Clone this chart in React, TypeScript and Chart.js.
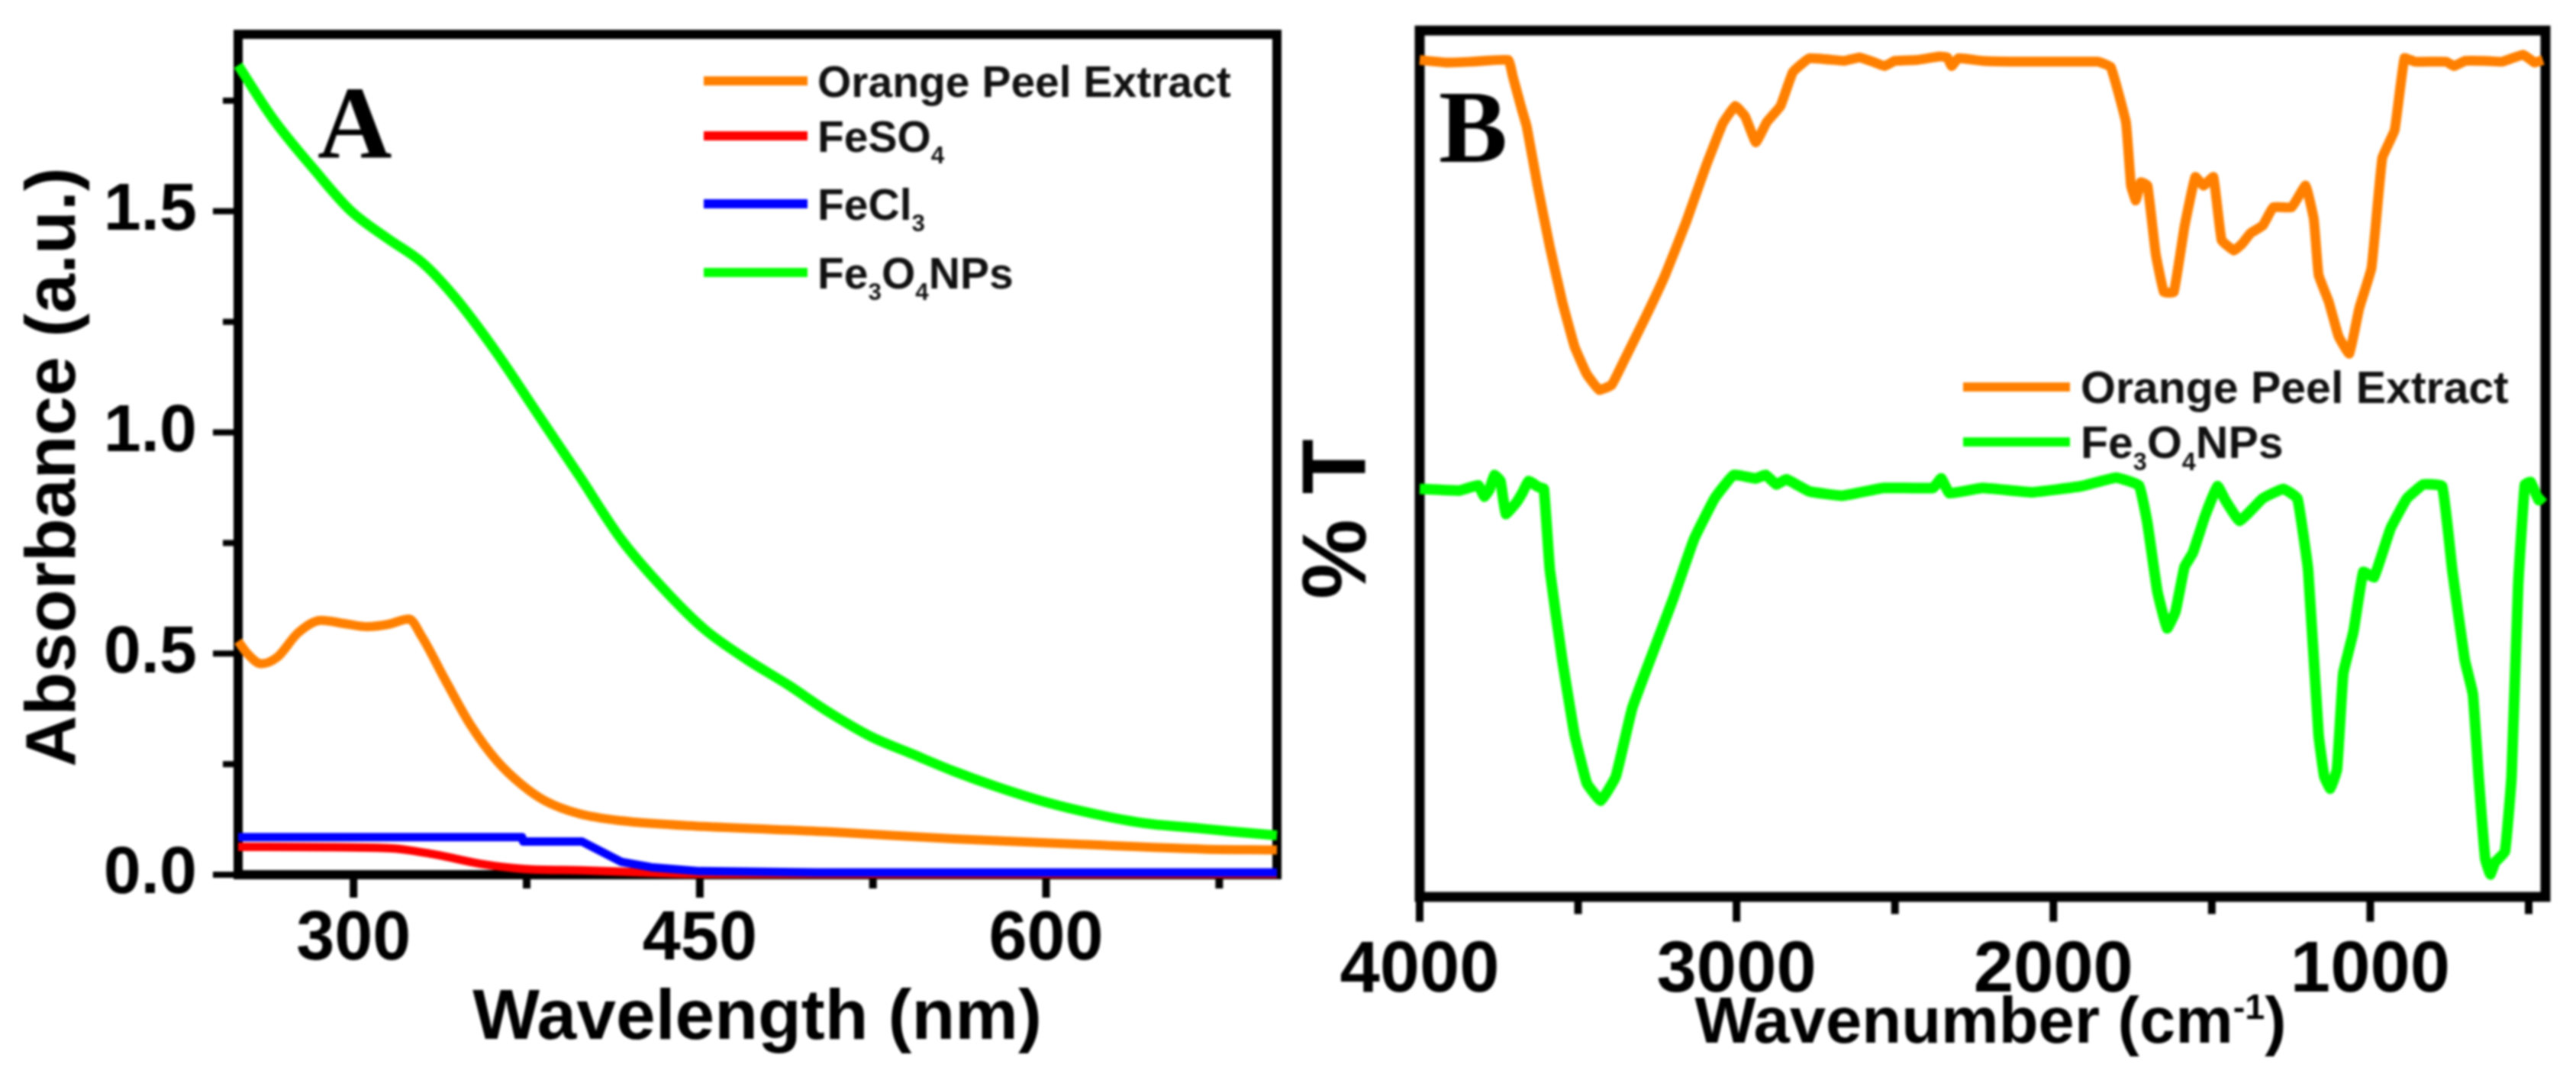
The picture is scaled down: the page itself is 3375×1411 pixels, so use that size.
import React, { useEffect, useRef } from "react";
import { Chart, registerables } from "chart.js";

Chart.register(...registerables);

const FONT = '"Liberation Sans", Arial, sans-serif';
const SERIF = '"Liberation Serif", serif';
const ORANGE = "#ff8000";
const RED = "#ff0000";
const BLUE = "#0000ff";
const GREEN = "#00ff00";

// Panel A
const orangeNm = [250,254,260,267,276,286,297,306,315,324,329.5,340,351,362,373,383,398,416,452,506,560,614,668,700];
const orangeAbs = [0.528,0.5,0.477,0.492,0.547,0.575,0.567,0.561,0.566,0.578,0.539,0.4375,0.336,0.258,0.203,0.167,0.1375,0.122,0.109,0.097,0.081,0.069,0.058,0.056];
const redNm = [250,315,335,357,374,399,432,450,700];
const redAbs = [0.063,0.06,0.046,0.023,0.013,0.01,0.004,0.002,0.002];
const blueNm = [250,300,373,373.5,399,416,429,450,500,700];
const blueAbs = [0.085,0.085,0.085,0.075,0.075,0.029,0.017,0.008,0.005,0.005];
const greenNm = [250,265,283,299,315,330,344,362,380,398,416,434,452,470,488,506,524,542,560,578,600,621,642,664,680,700];
const greenAbs = [1.83,1.71,1.594,1.5,1.4375,1.383,1.305,1.18,1.04,0.9,0.758,0.648,0.555,0.488,0.43,0.367,0.3125,0.273,0.234,0.2,0.164,0.1375,0.117,0.106,0.098,0.089];
const aMajorX = [300,450,600];
const aMinorX = [375,525,675];
const aMajorY = [0,0.5,1,1.5];
const aMinorY = [0.25,0.75,1.25,1.75];

// Panel B
const orangeWn = [4000,3914,3836,3720,3706,3680,3662,3628,3589,3550,3511,3472,3433,3394,3355,3290,3225,3160,3095,3043,3004,2973,2939,2905,2861,2822,2770,2660,2612,2570,2533,2500,2430,2360,2335,2321,2300,2224,2094,1860,1819,1771,1755,1740,1724,1703,1677,1651,1620,1586,1552,1526,1495,1469,1430,1404,1378,1339,1306,1248,1204,1178,1163,1131,1100,1066,1035,996,962,923,892,858,760,736,700,640,585,517,481,455];
const orangeT = [96.6,96.3,96.4,96.6,94.7,91.2,88.9,82.1,75,68.7,63.5,60.3,58.5,59.1,61.9,66.7,71.8,77.8,84.5,89.3,91.3,90.1,87.1,89.4,91.3,95.2,96.8,96.5,96.9,96.4,95.9,96.5,96.6,97,96.9,95.9,96.8,96.5,96.4,96.4,95.8,89.4,82.1,80.4,82.5,82.1,74.2,69.8,69.8,77.4,83.1,82.1,83.1,75.8,74.6,75.4,76.6,77.5,79.6,79.6,82.1,78.2,71.8,68.7,64.7,62.7,67.9,72.6,85.3,88.5,96.8,96.4,96.4,95.9,96.5,96.5,96.4,97.2,96.3,96.6];
const greenWn = [4000,3875,3815,3796,3780,3764,3745,3728,3695,3675,3656,3625,3608,3589,3550,3511,3472,3428,3381,3329,3264,3199,3134,3069,3009,2939,2908,2874,2843,2770,2666,2536,2380,2354,2328,2224,2068,1912,1802,1730,1704,1672,1641,1615,1586,1560,1521,1482,1456,1412,1339,1274,1230,1196,1163,1145,1126,1105,1085,1053,1022,988,936,884,832,773,741,702,676,658,637,621,606,575,554,533,512,494,468,453];
const greenT = [47.1,46.9,47.5,46.2,47,48.7,48,44.2,45.5,46.7,48,47.3,47.1,37.7,27.4,18.7,13.1,11.1,13.9,21.8,28.2,34.5,41.3,46,48.7,48.3,48.7,47.6,48.2,46.8,46.3,47.2,47.2,48.3,46.6,47.2,46.7,47.4,48.4,47.5,43.3,35.3,31,32.9,38.1,39.7,44,47.4,45.7,43.4,46,47.1,46,37.7,18.7,13.9,12.5,14.7,25.8,30.6,37.5,36.9,42.5,46,47.6,47.4,37.7,27.4,23.4,13.9,4.4,2.6,4,5.2,13.9,36.1,47.6,47.9,45.8,46.3];
const bMajorX = [4000,3000,2000,1000];
const bMinorX = [3500,2500,1500,500];

type Run = { t: string; k?: "sub" | "sup" };
const legendA: { color: string; runs: Run[] }[] = [
  { color: ORANGE, runs: [{ t: "Orange Peel Extract" }] },
  { color: RED, runs: [{ t: "FeSO" }, { t: "4", k: "sub" }] },
  { color: BLUE, runs: [{ t: "FeCl" }, { t: "3", k: "sub" }] },
  { color: GREEN, runs: [{ t: "Fe" }, { t: "3", k: "sub" }, { t: "O" }, { t: "4", k: "sub" }, { t: "NPs" }] },
];
const legendB = [legendA[0], legendA[3]];

function drawRuns(ctx: CanvasRenderingContext2D, x: number, y: number, runs: Run[], size: number, family = FONT) {
  let cx = x;
  ctx.textAlign = "left";
  ctx.textBaseline = "alphabetic";
  for (const r of runs) {
    const s = r.k ? size * 0.55 : size;
    ctx.font = `bold ${s}px ${family}`;
    const dy = r.k === "sub" ? size * 0.27 : r.k === "sup" ? -size * 0.36 : 0;
    ctx.fillText(r.t, cx, y + dy);
    cx += ctx.measureText(r.t).width;
  }
}

function drawCentered(ctx: CanvasRenderingContext2D, cx: number, cy: number, rot: number, runs: Run[], size: number) {
  ctx.save();
  ctx.translate(cx, cy);
  ctx.rotate(rot);
  let w = 0;
  for (const r of runs) {
    ctx.font = `bold ${r.k ? size * 0.55 : size}px ${FONT}`;
    w += ctx.measureText(r.t).width;
  }
  drawRuns(ctx, -w / 2, size * 0.36, runs, size);
  ctx.restore();
}

type Deco = {
  frame: number;
  major: number;
  minor: number;
  tickW: number;
  yMajor?: number;
  yMinor?: number;
  yTickW?: number;
  letter: string;
  letterX: number;
  letterY: number;
  letterSize: number;
  legend: typeof legendA;
  legendX0: number;
  legendX1: number;
  legendTextX: number;
  legendY: number[];
  legendSize: number;
  titles: { x: number; y: number; rot: number; runs: Run[]; size: number }[];
  xMajor: number[];
  yMajorVals?: number[];
};

const decoPlugin = {
  id: "deco",
  beforeDatasetsDraw(chart: any, _a: any, o: Deco) {
    const { ctx, chartArea: ca, scales } = chart;
    ctx.save();
    ctx.strokeStyle = "#000";
    ctx.lineCap = "butt";
    scales.x.ticks.forEach((t: any) => {
      const p = scales.x.getPixelForValue(t.value);
      ctx.lineWidth = o.tickW;
      const len = o.xMajor.includes(t.value) ? o.major : o.minor;
      ctx.beginPath();
      ctx.moveTo(p, ca.bottom);
      ctx.lineTo(p, ca.bottom + o.frame / 2 + len);
      ctx.stroke();
    });
    if (o.yMajorVals) {
      scales.y.ticks.forEach((t: any) => {
        const p = scales.y.getPixelForValue(t.value);
        ctx.lineWidth = o.yTickW;
        const len = o.yMajorVals!.includes(t.value) ? o.yMajor! : o.yMinor!;
        ctx.beginPath();
        ctx.moveTo(ca.left, p);
        ctx.lineTo(ca.left - o.frame / 2 - len, p);
        ctx.stroke();
      });
    }
    ctx.lineWidth = o.frame;
    ctx.strokeRect(ca.left, ca.top, ca.right - ca.left, ca.bottom - ca.top);
    ctx.restore();
  },
  afterDatasetsDraw(chart: any, _a: any, o: Deco) {
    const { ctx } = chart;
    ctx.save();
    ctx.fillStyle = "#000";
    ctx.textAlign = "left";
    ctx.textBaseline = "alphabetic";
    ctx.font = `bold ${o.letterSize}px ${SERIF}`;
    ctx.fillText(o.letter, o.letterX, o.letterY);
    o.legend.forEach((l, i) => {
      ctx.strokeStyle = l.color;
      ctx.lineWidth = 12;
      ctx.beginPath();
      ctx.moveTo(o.legendX0, o.legendY[i]);
      ctx.lineTo(o.legendX1, o.legendY[i]);
      ctx.stroke();
      ctx.fillStyle = "#111";
      drawRuns(ctx, o.legendTextX, o.legendY[i] + o.legendSize * 0.36, l.runs, o.legendSize);
    });
    ctx.fillStyle = "#000";
    o.titles.forEach((t) => drawCentered(ctx, t.x, t.y, t.rot, t.runs, t.size));
    ctx.restore();
  },
};

const series = (label: string, xs: number[], ys: number[], color: string, order: number, width: number, tension: number, smooth = false) => ({
  label,
  data: xs.map((x, i) => ({ x, y: ys[i] })),
  borderColor: color,
  backgroundColor: color,
  borderWidth: width,
  pointRadius: 0,
  order,
  tension,
  cubicInterpolationMode: smooth ? ("monotone" as const) : ("default" as const),
  clip: false as const,
  borderJoinStyle: "round" as const,
});

const noPad = (s: any) => {
  s.paddingTop = 0;
  s.paddingBottom = 0;
  s.paddingLeft = 0;
  s.paddingRight = 0;
};

function App() {
  const refA = useRef<HTMLCanvasElement>(null);
  const refB = useRef<HTMLCanvasElement>(null);

  useEffect(() => {
    const tickFont = (size: number) => ({ family: FONT, size, weight: "bold" as const, lineHeight: 1.2 });
    const a = new Chart(refA.current!, {
      type: "line",
      data: {
        datasets: [
          series("Orange Peel Extract", orangeNm, orangeAbs, ORANGE, 3, 12, 0.3, true),
          series("FeSO4", redNm, redAbs, RED, 2, 11, 0.1, true),
          series("FeCl3", blueNm, blueAbs, BLUE, 1, 11, 0),
          series("Fe3O4NPs", greenNm, greenAbs, GREEN, 0, 13, 0.3, true),
        ],
      },
      options: {
        animation: false,
        responsive: false,
        devicePixelRatio: 1,
        layout: { padding: { top: 45, right: 17, left: 0, bottom: 0 }, autoPadding: false },
        plugins: {
          legend: { display: false },
          tooltip: { enabled: false },
          deco: {
            frame: 12,
            major: 24,
            minor: 12,
            tickW: 10,
            yMajor: 27,
            yMinor: 14,
            yTickW: 8,
            yMajorVals: aMajorY,
            letter: "A",
            letterX: 416,
            letterY: 207,
            letterSize: 135,
            legend: legendA,
            legendX0: 922,
            legendX1: 1058,
            legendTextX: 1071,
            legendY: [106, 178, 267, 357],
            legendSize: 57,
            xMajor: aMajorX,
            titles: [
              { x: 992, y: 1328, rot: 0, runs: [{ t: "Wavelength (nm)" }], size: 93 },
              { x: 65, y: 612, rot: -Math.PI / 2, runs: [{ t: "Absorbance (a.u.)" }], size: 93 },
            ],
          },
        } as any,
        scales: {
          x: {
            type: "linear",
            min: 250,
            max: 700,
            grid: { display: false },
            border: { display: false },
            afterBuildTicks: (s: any) => {
              s.ticks = [...aMajorX, ...aMinorX].sort((p, q) => p - q).map((value) => ({ value }));
            },
            afterFit: (s: any) => {
              s.height = 265;
              noPad(s);
            },
            ticks: {
              autoSkip: false,
              maxRotation: 0,
              padding: 24,
              color: "#000",
              font: tickFont(90),
              callback: (v: any) => (aMajorX.includes(v) ? String(v) : ""),
            },
          },
          y: {
            type: "linear",
            min: 0,
            max: 1.9,
            grid: { display: false },
            border: { display: false },
            afterBuildTicks: (s: any) => {
              s.ticks = [...aMajorY, ...aMinorY].sort((p, q) => p - q).map((value) => ({ value }));
            },
            afterFit: (s: any) => {
              s.width = 312;
              noPad(s);
            },
            ticks: {
              autoSkip: false,
              padding: 46,
              color: "#000",
              font: tickFont(88),
              callback: (v: any) => (aMajorY.includes(v) ? Number(v).toFixed(1) : ""),
            },
          },
        },
      },
      plugins: [decoPlugin as any],
    });

    const b = new Chart(refB.current!, {
      type: "line",
      data: {
        datasets: [
          series("Orange Peel Extract", orangeWn, orangeT, ORANGE, 1, 13, 0.1),
          series("Fe3O4NPs", greenWn, greenT, GREEN, 0, 14, 0.1),
        ],
      },
      options: {
        animation: false,
        responsive: false,
        devicePixelRatio: 1,
        layout: { padding: { top: 40, right: 40, left: 0, bottom: 0 }, autoPadding: false },
        plugins: {
          legend: { display: false },
          tooltip: { enabled: false },
          deco: {
            frame: 13,
            major: 26,
            minor: 16,
            tickW: 10,
            letter: "B",
            letterX: 195,
            letterY: 212,
            letterSize: 135,
            legend: legendB,
            legendX0: 882,
            legendX1: 1022,
            legendTextX: 1036,
            legendY: [507, 579],
            legendSize: 59,
            xMajor: bMajorX,
            titles: [
              { x: 918, y: 1335, rot: 0, runs: [{ t: "Wavenumber (cm" }, { t: "-1", k: "sup" }, { t: ")" }], size: 85 },
              { x: 57, y: 680, rot: -Math.PI / 2, runs: [{ t: "% T" }], size: 118 },
            ],
          },
        } as any,
        scales: {
          x: {
            type: "linear",
            min: 447,
            max: 4000,
            reverse: true,
            grid: { display: false },
            border: { display: false },
            afterBuildTicks: (s: any) => {
              s.ticks = [...bMajorX, ...bMinorX].sort((p, q) => q - p).map((value) => ({ value }));
            },
            afterFit: (s: any) => {
              s.height = 236;
              noPad(s);
            },
            ticks: {
              autoSkip: false,
              maxRotation: 0,
              padding: 34,
              color: "#000",
              font: tickFont(94),
              callback: (v: any) => (bMajorX.includes(v) ? String(v) : ""),
            },
          },
          y: {
            type: "linear",
            min: 0,
            max: 100,
            grid: { display: false },
            border: { display: false },
            ticks: { display: false },
            afterFit: (s: any) => {
              s.width = 170;
              noPad(s);
            },
          },
        },
      },
      plugins: [decoPlugin as any],
    });

    return () => {
      a.destroy();
      b.destroy();
    };
  }, []);

  return (
    <div style={{ position: "absolute", left: 0, top: 0, width: 3375, height: 1411, overflow: "hidden", background: "#fff", filter: "blur(1.4px)" }}>
      <canvas ref={refA} width={1690} height={1411} style={{ position: "absolute", left: 0, top: 0, width: 1690, height: 1411 }} />
      <canvas ref={refB} width={1685} height={1411} style={{ position: "absolute", left: 1690, top: 0, width: 1685, height: 1411 }} />
    </div>
  );
}

export default App;
